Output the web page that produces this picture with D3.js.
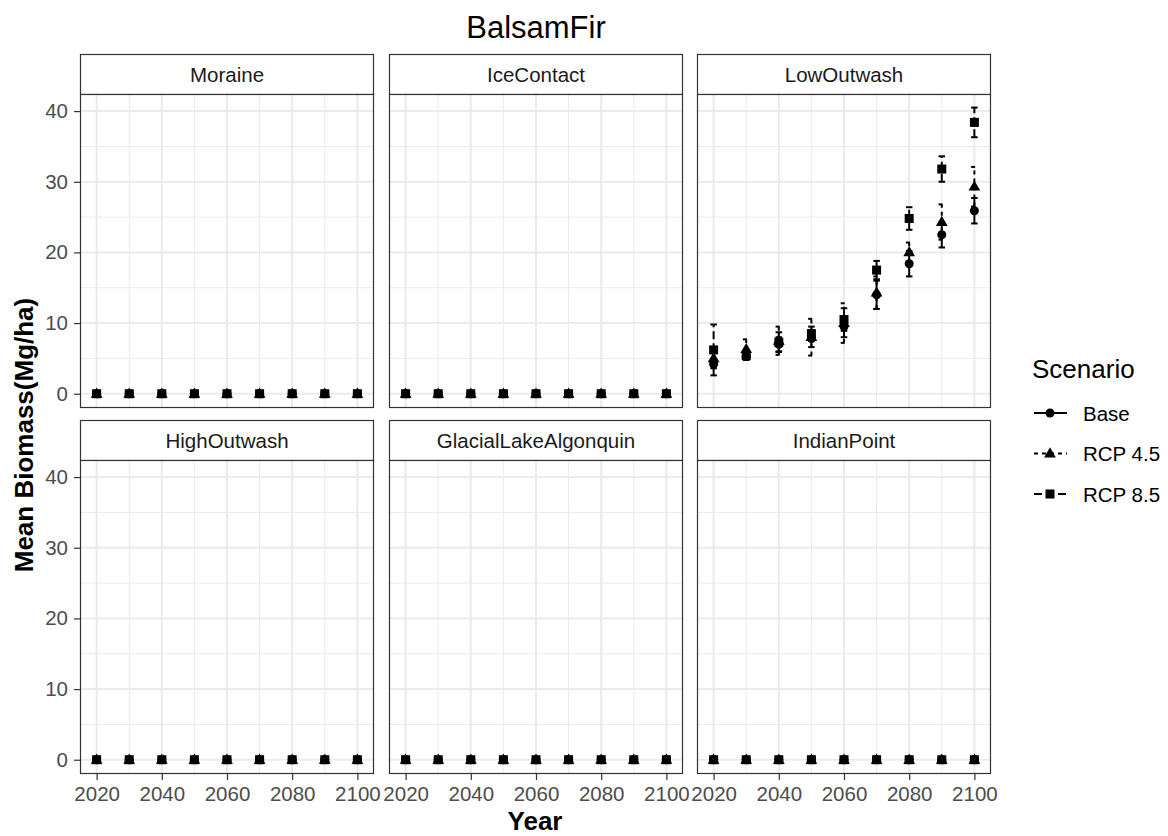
<!DOCTYPE html>
<html>
<head>
<meta charset="utf-8">
<script src="https://cdnjs.cloudflare.com/ajax/libs/d3/7.8.5/d3.min.js"></script>
<style>
  body { margin: 0; background: #fff; }
  text { font-family: "Liberation Sans", Arial, sans-serif; }
</style>
</head>
<body>
<script>
// data
var years = [2020, 2030, 2040, 2050, 2060, 2070, 2080, 2090, 2100];
var scenarios = ["Base", "RCP 4.5", "RCP 8.5"];
var panels = ["Moraine", "IceContact", "LowOutwash", "HighOutwash", "GlacialLakeAlgonquin", "IndianPoint"];
var zeros = [0, 0, 0, 0, 0, 0, 0, 0, 0];

// LowOutwash means and half error bar per scenario
var lowBase = [4.2, 5.3, 7.0, 7.8, 9.5, 14.0, 18.4, 22.5, 25.9];
var lowBaseErr = [0.6, 0.5, 1.0, 1.2, 1.5, 2.0, 1.8, 1.8, 1.8];
var low45 = [5.0, 6.3, 7.5, 8.0, 10.0, 14.3, 20.0, 24.3, 29.3];
var low45Err = [0.8, 1.4, 2.0, 2.6, 2.8, 2.3, 1.4, 2.5, 2.8];
var low85 = [6.2, 5.4, 7.3, 8.5, 10.5, 17.5, 24.8, 31.8, 38.4];
var low85Err = [3.6, 0.6, 1.4, 1.0, 1.6, 1.3, 1.6, 1.8, 2.1];

var yTicks = [0, 10, 20, 30, 40];
var yMinor = [5, 15, 25, 35];
var xTicks = [2020, 2040, 2060, 2080, 2100];
var xMinor = [2030, 2050, 2070, 2090];

// put it in rows
var rows = [];
panels.forEach(function(p) {
  scenarios.forEach(function(s, si) {
    var m = zeros, e = zeros;
    if (p == "LowOutwash") {
      m = [lowBase, low45, low85][si];
      e = [lowBaseErr, low45Err, low85Err][si];
    }
    years.forEach(function(y, i) {
      rows.push({panel: p, scenario: s, year: y, mean: m[i], err: e[i]});
    });
  });
});

var W = 1168, H = 836;
var colX = [80, 389, 697], rowY = [54, 420];
var pw = 294, stripH = 40, ph = 314;

var svg = d3.select("body").append("svg")
  .attr("width", W).attr("height", H);

var x = d3.scaleLinear().domain([2014.9, 2105.1]).range([0, pw]);
var y = d3.scaleLinear().domain([-2.02, 42.42]).range([ph, 0]);

var dash = {"Base": null, "RCP 4.5": "4,4", "RCP 8.5": "8,4"};

function drawPoint(g, s, cx, cy) {
  if (s == "Base") {
    g.append("circle").attr("cx", cx).attr("cy", cy).attr("r", 4.5).attr("fill", "#000");
  } else if (s == "RCP 4.5") {
    g.append("path").attr("d", d3.symbol().type(d3.symbolTriangle).size(60)())
      .attr("transform", "translate(" + cx + "," + (cy + 0.5) + ")").attr("fill", "#000");
  } else {
    g.append("rect").attr("x", cx - 4.5).attr("y", cy - 4.5).attr("width", 9).attr("height", 9).attr("fill", "#000");
  }
}

panels.forEach(function(p, pi) {
  var c = pi % 3, r = Math.floor(pi / 3);
  var g = svg.append("g").attr("transform", "translate(" + colX[c] + "," + rowY[r] + ")");

  // strip
  g.append("rect").attr("x", 0.5).attr("y", 0.5).attr("width", pw - 1).attr("height", stripH)
    .attr("fill", "#fff").attr("stroke", "#333").attr("stroke-width", 1.2);
  g.append("text").attr("x", pw / 2).attr("y", 28).attr("text-anchor", "middle")
    .style("font-size", "20.5px").attr("fill", "#1a1a1a").text(p);

  var pg = g.append("g").attr("transform", "translate(0," + stripH + ")");
  pg.append("rect").attr("width", pw).attr("height", ph).attr("fill", "#fff");

  // grid
  pg.selectAll(".ymin").data(yMinor).enter().append("line")
    .attr("x1", 0).attr("x2", pw).attr("y1", function(d) { return y(d); }).attr("y2", function(d) { return y(d); })
    .attr("stroke", "#ebebeb").attr("stroke-width", 1);
  pg.selectAll(".xmin").data(xMinor).enter().append("line")
    .attr("y1", 0).attr("y2", ph).attr("x1", function(d) { return x(d); }).attr("x2", function(d) { return x(d); })
    .attr("stroke", "#ebebeb").attr("stroke-width", 1);
  pg.selectAll(".ymaj").data(yTicks).enter().append("line")
    .attr("x1", 0).attr("x2", pw).attr("y1", function(d) { return y(d); }).attr("y2", function(d) { return y(d); })
    .attr("stroke", "#ebebeb").attr("stroke-width", 2);
  pg.selectAll(".xmaj").data(xTicks).enter().append("line")
    .attr("y1", 0).attr("y2", ph).attr("x1", function(d) { return x(d); }).attr("x2", function(d) { return x(d); })
    .attr("stroke", "#ebebeb").attr("stroke-width", 2);

  // error bars then points
  var pd = rows.filter(function(d) { return d.panel == p; });
  var capW = x(2021) - x(2020);
  pd.forEach(function(d) {
    var cx = x(d.year), lo = y(d.mean - d.err), hi = y(d.mean + d.err);
    var eg = pg.append("g").attr("stroke", "#000").attr("stroke-width", 2).attr("fill", "none")
      .attr("stroke-dasharray", dash[d.scenario]);
    eg.append("line").attr("x1", cx).attr("x2", cx).attr("y1", lo).attr("y2", hi);
    eg.append("line").attr("x1", cx - capW).attr("x2", cx + capW).attr("y1", lo).attr("y2", lo);
    eg.append("line").attr("x1", cx - capW).attr("x2", cx + capW).attr("y1", hi).attr("y2", hi);
  });
  pd.forEach(function(d) { drawPoint(pg, d.scenario, x(d.year), y(d.mean)); });

  pg.append("rect").attr("x", 0.5).attr("y", 0.5).attr("width", pw - 1).attr("height", ph - 1)
    .attr("fill", "none").attr("stroke", "#333").attr("stroke-width", 1.2);

  // axes
  if (c == 0) {
    var ya = pg.append("g").call(d3.axisLeft(y).tickValues(yTicks).tickSize(6).tickPadding(6));
    ya.select(".domain").remove();
    ya.selectAll("line").attr("stroke", "#333").attr("stroke-width", 1.2);
    ya.selectAll("text").style("font-size", "20.5px").attr("fill", "#4d4d4d").style("font-family", "Liberation Sans, Arial");
  }
  if (r == 1) {
    var xa = pg.append("g").attr("transform", "translate(0," + ph + ")")
      .call(d3.axisBottom(x).tickValues(xTicks).tickFormat(d3.format("d")).tickSize(6).tickPadding(6));
    xa.select(".domain").remove();
    xa.selectAll("line").attr("stroke", "#333").attr("stroke-width", 1.2);
    xa.selectAll("text").style("font-size", "20.5px").attr("fill", "#4d4d4d").style("font-family", "Liberation Sans, Arial");
  }
});

// titles
svg.append("text").attr("x", 536).attr("y", 38).attr("text-anchor", "middle")
  .style("font-size", "31px").attr("fill", "#000").text("BalsamFir");
svg.append("text").attr("x", 535).attr("y", 830).attr("text-anchor", "middle")
  .style("font-size", "26px").style("font-weight", "bold").text("Year");
svg.append("text").attr("transform", "translate(33,435) rotate(-90)").attr("text-anchor", "middle")
  .style("font-size", "26px").style("font-weight", "bold").text("Mean Biomass(Mg/ha)");

// legend
var leg = svg.append("g");
leg.append("text").attr("x", 1032).attr("y", 378).style("font-size", "26px").text("Scenario");
scenarios.forEach(function(s, i) {
  var ly = 413 + i * 40.5;
  leg.append("line").attr("x1", 1034).attr("x2", 1067).attr("y1", ly).attr("y2", ly)
    .attr("stroke", "#000").attr("stroke-width", 2).attr("stroke-dasharray", dash[s]);
  drawPoint(leg, s, 1050, ly);
  leg.append("text").attr("x", 1083).attr("y", ly + 7.5).style("font-size", "20.5px").text(s);
});
</script>
</body>
</html>
